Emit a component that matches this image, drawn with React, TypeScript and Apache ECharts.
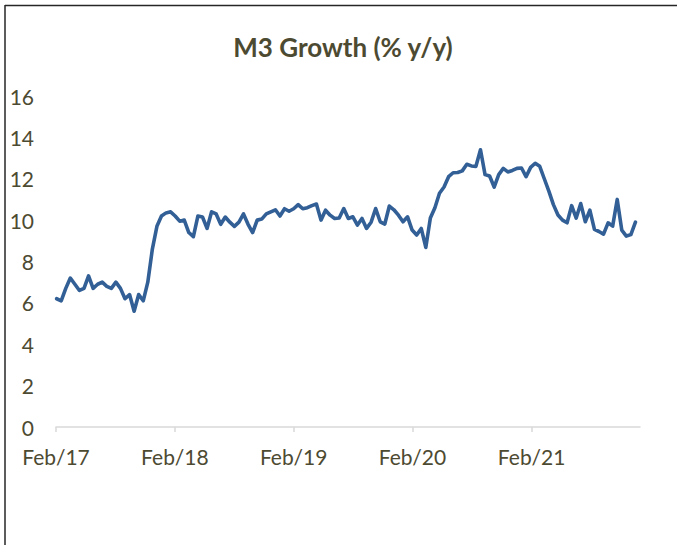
import React, { useEffect, useRef } from 'react';
import * as echarts from 'echarts';

const TITLE = 'M3 Growth (% y/y)';

// Fortnightly observations, first one on this date
const FIRST_DATE = '2017-02-03';
const STEP_DAYS = 14;
const AXIS_START = '2017-02-01';
const AXIS_END = '2021-12-31';

const TICK_DATES = ['2017-02-01', '2018-02-01', '2019-02-01', '2020-02-01', '2021-02-01'];
const TICK_LABELS = ['Feb/17', 'Feb/18', 'Feb/19', 'Feb/20', 'Feb/21'];

const Y_MIN = 0;
const Y_MAX = 16;
const Y_STEP = 2;

const M3_GROWTH = [
  6.2, 6.1, 6.7, 7.2, 6.9, 6.6, 6.7, 7.3, 6.7, 6.9,
  7.0, 6.8, 6.7, 7.0, 6.7, 6.2, 6.4, 5.6, 6.4, 6.1,
  7.0, 8.6, 9.7, 10.2, 10.35, 10.4, 10.2, 9.95, 10.0, 9.4,
  9.2, 10.2, 10.15, 9.6, 10.4, 10.3, 9.8, 10.15, 9.9, 9.7,
  9.9, 10.3, 9.8, 9.4, 10.0, 10.05, 10.3, 10.4, 10.5, 10.2,
  10.55, 10.43, 10.55, 10.75, 10.55, 10.6, 10.7, 10.78, 10.0, 10.48,
  10.24, 10.08, 10.1, 10.56, 10.08, 10.16, 9.76, 10.08, 9.6, 9.9,
  10.56, 9.92, 9.81, 10.68, 10.5, 10.24, 9.92, 10.16, 9.52, 9.28,
  9.6, 8.68, 10.1, 10.6, 11.3, 11.6, 12.1, 12.29, 12.3, 12.38,
  12.7, 12.62, 12.6, 13.4, 12.2, 12.13, 11.6, 12.2, 12.5, 12.33,
  12.4, 12.5, 12.52, 12.1, 12.55, 12.75, 12.6, 12.0, 11.4, 10.75,
  10.25, 10.0, 9.87, 10.7, 10.1, 10.8, 9.92, 10.48, 9.55, 9.45,
  9.32, 9.87, 9.71, 11.0, 9.52, 9.23, 9.3, 9.9,
];

const TEXT_COLOR = '#4d4a32';
const LINE_COLOR = '#325f95';
const FONT = 'Lato, "Open Sans", sans-serif';

function ms(d: string): number {
  return new Date(d + 'T00:00:00Z').getTime();
}

export default function App() {
  const ref = useRef<HTMLDivElement | null>(null);

  useEffect(() => {
    if (!ref.current) return;
    const chart = echarts.init(ref.current, undefined, { renderer: 'svg' });
    const first = ms(FIRST_DATE);
    const dates = M3_GROWTH.map((_, i) => first + i * STEP_DAYS * 86400000);
    const tickValues = TICK_DATES.map(ms);
    const labelFor = (v: number) => {
      const idx = tickValues.indexOf(v);
      return idx >= 0 ? TICK_LABELS[idx] : '';
    };

    chart.setOption({
      animation: false,
      backgroundColor: '#ffffff',
      graphic: [
        {
          type: 'line',
          shape: { x1: 5, y1: 5.5, x2: 690, y2: 5.5 },
          style: { stroke: '#262626', lineWidth: 1.5 },
        },
        {
          type: 'line',
          shape: { x1: 5, y1: 5, x2: 5, y2: 560 },
          style: { stroke: '#262626', lineWidth: 1.5 },
        },
        {
          type: 'text',
          x: 343,
          y: 47,
          style: {
            text: TITLE,
            fill: TEXT_COLOR,
            font: 'bold 26px ' + FONT,
            textAlign: 'center',
            textVerticalAlign: 'middle',
          },
        },
      ],
      grid: { left: 56, right: 37, top: 96, bottom: 118, containLabel: false },
      xAxis: {
        type: 'value',
        min: ms(AXIS_START),
        max: ms(AXIS_END),
        splitLine: { show: false },
        axisLine: { show: true, lineStyle: { color: '#d9d9d9', width: 1.5 } },
        axisTick: {
          show: true,
          length: 5,
          customValues: tickValues,
          lineStyle: { color: '#d9d9d9', width: 1.5 },
        },
        axisLabel: {
          customValues: tickValues,
          formatter: (v: number) => labelFor(v),
          color: TEXT_COLOR,
          fontFamily: FONT,
          fontSize: 21,
          margin: 19,
        },
      },
      yAxis: {
        type: 'value',
        min: Y_MIN,
        max: Y_MAX,
        interval: Y_STEP,
        splitLine: { show: false },
        axisLine: { show: false },
        axisTick: { show: false },
        axisLabel: {
          color: TEXT_COLOR,
          fontFamily: FONT,
          fontSize: 21,
          margin: 22,
        },
      },
      series: [
        {
          type: 'line',
          data: dates.map((d, i) => [d, M3_GROWTH[i]]),
          showSymbol: false,
          symbol: 'none',
          lineStyle: { color: LINE_COLOR, width: 3.6, cap: 'round', join: 'round' },
        },
      ],
    });

    return () => chart.dispose();
  }, []);

  return (
    <div
      ref={ref}
      style={{ position: 'absolute', left: 0, top: 0, width: 677, height: 545, background: '#fff' }}
    />
  );
}
